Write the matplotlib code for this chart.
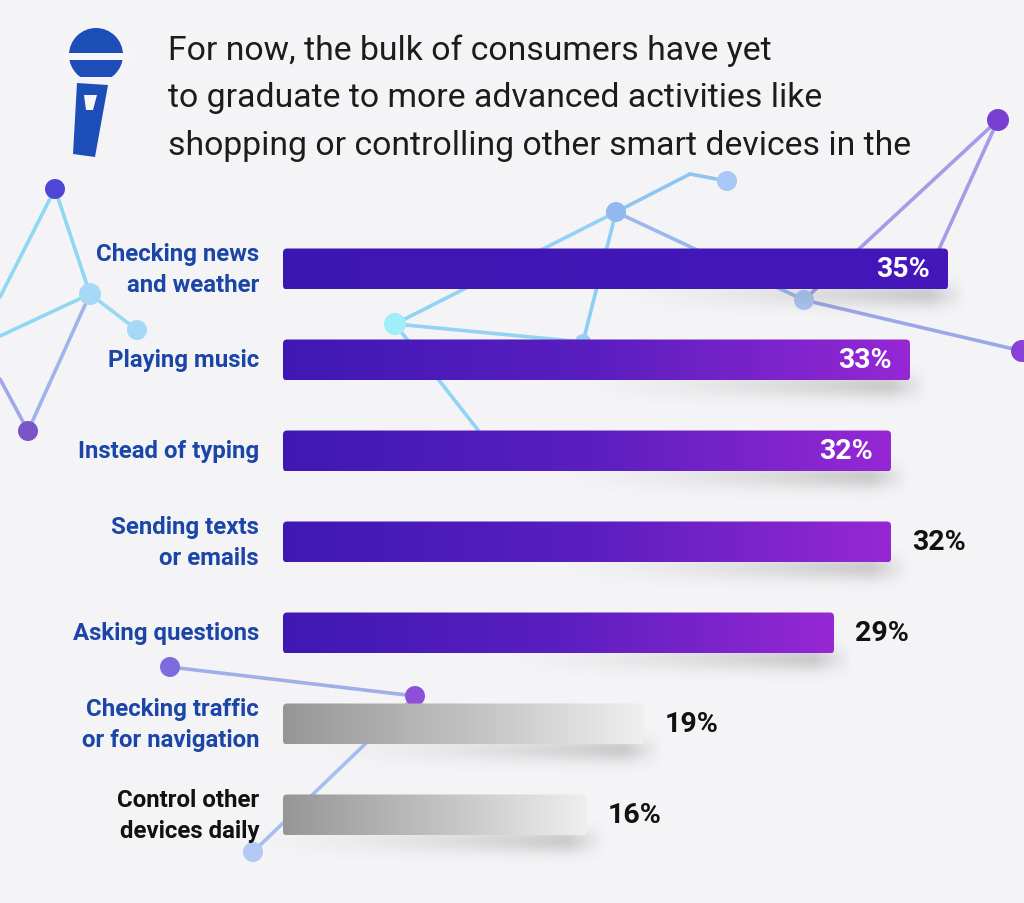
import numpy as np
import matplotlib.pyplot as plt
from matplotlib.patches import FancyBboxPatch, Circle, Rectangle, Polygon
from matplotlib.colors import LinearSegmentedColormap

# data
categories = ["Checking news\nand weather", "Playing music", "Instead of typing",
              "Sending texts\nor emails", "Asking questions",
              "Checking traffic\nor for navigation", "Control other\ndevices daily"]
values = [35, 33, 32, 32, 29, 19, 16]
title_lines = ["For now, the bulk of consumers have yet",
               "to graduate to more advanced activities like",
               "shopping or controlling other smart devices in the"]

plt.rcParams['font.family'] = ['Roboto', 'DejaVu Sans']
bg = "#f4f4f6"

fig = plt.figure(figsize=(10.24, 9.04), dpi=100)
fig.patch.set_facecolor(bg)

# background layer in pixel units (decorations)
bgax = fig.add_axes([0, 0, 1, 1])
bgax.set_xlim(0, 1024)
bgax.set_ylim(904, 0)
bgax.axis('off')
bgax.set_zorder(0)

# network decoration
nodes = {
    'A': (55, 190, 10, "#5046d6"), 'B': (90, 295, 11, "#a8d8f8"),
    'C': (137, 331, 10, "#a8d8f8"), 'D': (28, 432, 10, "#7a55c8"),
    'E': (395, 325, 11, "#a0eefa"), 'F': (616, 213, 10, "#92b8f0"),
    'G': (727, 182, 10, "#a9c8f5"), 'I': (804, 301, 10, "#a9c6f2"),
    'J': (998, 121, 11, "#7a3ed0"), 'K': (1022, 352, 11, "#8a40d8"),
    'L': (583, 343, 8, "#9acdf2"), 'N': (170, 668, 10, "#7d6ce0"),
    'O': (415, 697, 10, "#8e50d8"), 'P': (253, 853, 10, "#b3c8f5"),
}
extra = {'a0': (0, 298), 'b0': (0, 337), 'd0': (0, 380), 'H': (690, 175),
         'M': (485, 440), 'j1': (930, 270)}
links = [('A', 'B', "#8fd8f2"), ('A', 'a0', "#8fd8f2"), ('B', 'b0', "#8fd8f2"),
         ('B', 'C', "#9ad8f5"), ('B', 'D', "#a0b4ec"), ('D', 'd0', "#a0a8e8"),
         ('E', 'F', "#92d2f5"), ('E', 'L', "#92d2f5"), ('E', 'M', "#92d2f5"),
         ('F', 'H', "#90c4f2"), ('H', 'G', "#90c4f2"), ('F', 'L', "#8ccff5"),
         ('F', 'I', "#98b8ee"), ('I', 'K', "#9aa8e8"), ('J', 'I', "#a49ce6"),
         ('J', 'j1', "#a49ce6"), ('N', 'O', "#a0aeea"), ('O', 'P', "#a6bef0")]


def pos(k):
    if k in nodes:
        return nodes[k][:2]
    return extra[k]


for a, b, c in links:
    (x1, y1), (x2, y2) = pos(a), pos(b)
    bgax.plot([x1, x2], [y1, y2], color=c, lw=2.6, solid_capstyle='round', zorder=1)
for k, (x, y, r, c) in nodes.items():
    bgax.add_patch(Circle((x, y), r, color=c, zorder=2, lw=0))

# microphone icon
mic = "#1d4db6"
clip = Rectangle((60, 25), 80, 53, transform=bgax.transData)
head = Circle((96, 56), 27, color=mic, lw=0, zorder=3)
bgax.add_patch(head)
head.set_clip_path(clip)
bgax.add_patch(Rectangle((64, 54), 66, 6.5, color="#f7f7f9", lw=0, zorder=4))
bgax.add_patch(Polygon([(77, 84), (108, 86), (95, 158), (73, 155)], closed=True,
                       color=mic, lw=0, zorder=3))
bgax.add_patch(Polygon([(84, 96), (97, 96), (93, 111), (86, 111)], closed=True,
                       color="#f7f7f9", lw=0, zorder=4))

# title
for i, line in enumerate(title_lines):
    bgax.text(168, 60 + 47.5 * i, line, fontsize=24.3, color="#1c1c1c",
              va='baseline', ha='left', zorder=5)

# bar chart layer
ax = fig.add_axes([0, 0, 1, 1])
ax.set_zorder(1)
ax.patch.set_alpha(0)
ax.axis('off')
xpx, ypx = 19.0, 91.0
xlim = (-283 / xpx, (1024 - 283) / xpx)
ylim = ((904 - 270) / ypx, -270 / ypx)

h = 41 / ypx
dark = LinearSegmentedColormap.from_list("d", ["#3c16b2", "#4617bb"])
purple = LinearSegmentedColormap.from_list("p", [(0, "#3f18b3"), (0.5, "#5a1ec0"), (1, "#9628d4")])
gray = LinearSegmentedColormap.from_list("g", [(0, "#969696"), (0.6, "#c9c9c9"), (1, "#efefef")])
grad = np.linspace(0, 1, 256).reshape(1, -1)

for i, (cat, v) in enumerate(zip(categories, values)):
    # soft shadow under the right end
    nx, ny = 300, 40
    sx0, sx1 = v - 18, v + 1.0
    sy0, sy1 = i, i + h / 2 + 0.38
    xx = np.linspace(sx0, sx1, nx)
    yy = np.linspace(sy0, sy1, ny)
    wx = np.clip((xx - sx0) / (v - 1.4 - sx0), 0, 1) ** 1.4
    wx = wx * np.clip((sx1 - xx) / 2.0, 0, 1)
    wy = np.exp(-((yy - (i + h / 2 + 0.06)) / 0.14) ** 2)
    alpha = 0.26 * np.outer(wy, wx)
    rgba = np.zeros((ny, nx, 4))
    rgba[..., :3] = 0.35
    rgba[..., 3] = alpha
    ax.imshow(rgba, extent=(sx0, sx1, sy1, sy0), aspect='auto', zorder=1,
              interpolation='bilinear')

    patch = FancyBboxPatch((0, i - h / 2), v, h,
                           boxstyle="round,pad=0,rounding_size=0.22",
                           mutation_aspect=xpx / ypx, fc='none', ec='none', zorder=2)
    ax.add_patch(patch)
    cmap = dark if i == 0 else (purple if i < 5 else gray)
    im = ax.imshow(grad, cmap=cmap, extent=(0, v, i + h / 2, i - h / 2),
                   aspect='auto', zorder=2, interpolation='bilinear')
    im.set_clip_path(patch)

    lab_color = "#111111" if i == 6 else "#1b46a8"
    ax.text(-24 / xpx, i, cat, ha='right', va='center', multialignment='right',
            fontsize=17.3, fontweight='bold', color=lab_color, linespacing=1.42, zorder=3)
    if i < 3:
        ax.text(v - 18 / xpx, i, f"{v}%", ha='right', va='center', fontsize=20.5,
                fontweight='bold', color='white', zorder=3)
    else:
        ax.text(v + 21 / xpx, i, f"{v}%", ha='left', va='center', fontsize=20.5,
                fontweight='bold', color='#111111', zorder=3)

ax.set_xlim(*xlim)
ax.set_ylim(*ylim)

fig.savefig("out.png", dpi=100, facecolor=bg)
